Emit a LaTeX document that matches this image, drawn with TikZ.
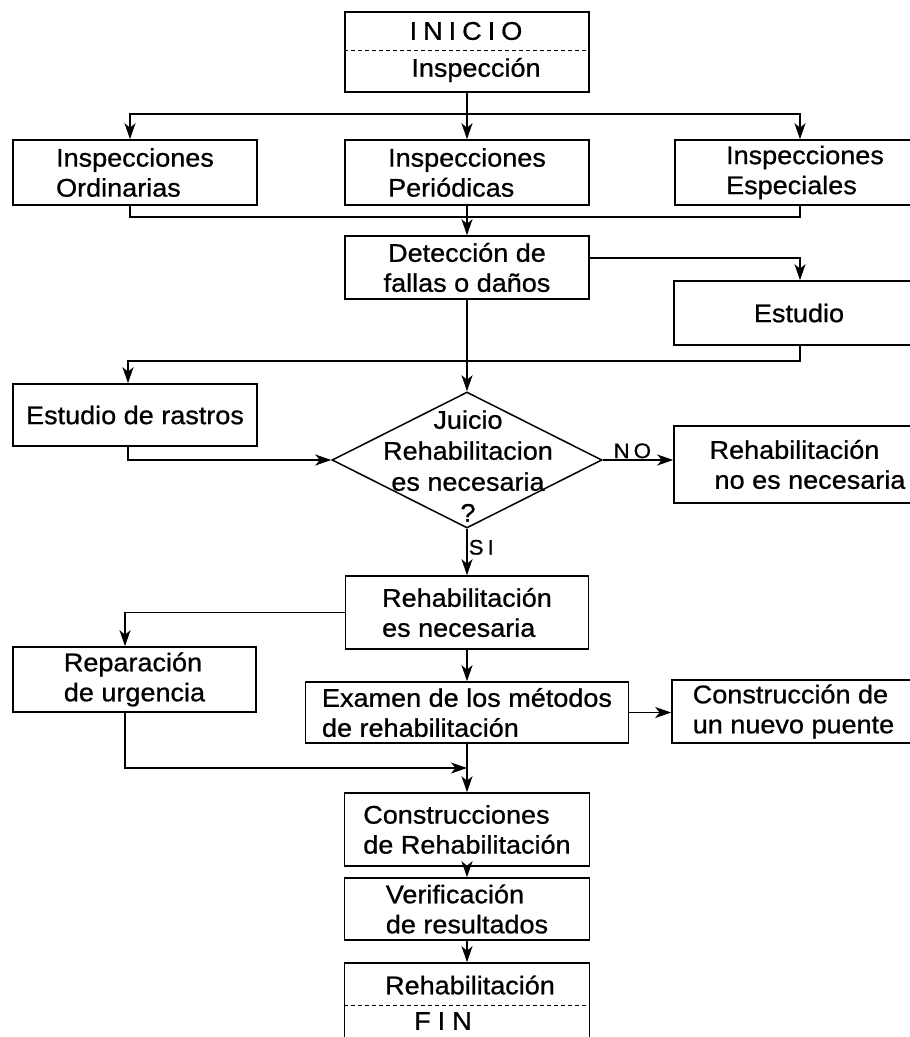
\documentclass[tikz,border=0pt]{standalone}
\usepackage{fontspec}
\setmainfont{Liberation Sans}[FakeStretch=1.06,FakeBold=0.8]
\usetikzlibrary{arrows.meta,shapes.geometric}

\tikzset{
  base/.style={draw, line width=1.6pt, inner sep=0pt,
               font=\fontsize{25.5}{30}\selectfont},
  box/.style={base, rectangle, align=center},
  boxl/.style={base, rectangle, align=left},
  conn/.style={line width=1.5pt},
  arr/.style={conn, -{Stealth[length=16pt,width=11pt,inset=4.5pt]}},
  divider/.style={line width=1pt, dash pattern=on 4pt off 3pt},
  lbl/.style={font=\fontsize{21}{24}\selectfont, inner sep=1pt},
  txt/.style={font=\fontsize{25.5}{30}\selectfont, inner sep=0pt},
}

\begin{document}
\begin{tikzpicture}[x=1pt,y=-1pt]
\useasboundingbox (0,0) rectangle (910,1037);
\fill[white] (0,0) rectangle (910,1037);

% start box
\node[box, minimum width=244pt, minimum height=80pt] (start) at (467,52) {};
\node[txt] (startA) at (466,31) {I\kern6pt N\kern6pt I\kern6pt C\kern6pt I\kern6pt O};
\node[txt] (startB) at (476,70) {Inspección};
\draw[divider] (start.west |- 0,50) -- (start.east |- 0,50);

% inspections
\node[boxl, minimum width=244pt, minimum height=65pt] (ord) at (135,172.5) {Inspecciones\\Ordinarias};
\node[boxl, minimum width=244pt, minimum height=65pt] (per) at (467,172.5) {Inspecciones\\Periódicas};
\node[boxl, minimum width=260pt, minimum height=65pt] (esp) at (805,172.5) {Inspecciones\\Especiales};

\node[box, minimum width=244pt, minimum height=63pt] (det) at (467,267.5) {Detección de\\fallas o daños};
\node[box, minimum width=250pt, minimum height=64pt] (est) at (799,313) {Estudio};
\node[box, minimum width=244pt, minimum height=62pt] (ras) at (135,415) {Estudio de rastros};

% decision
\node[diamond, draw, line width=1.5pt, minimum width=270pt, minimum height=136pt, inner sep=0pt] (dec) at (467,460) {};
\node[txt, align=center, font=\fontsize{25.5}{31}\selectfont] (decT) at (468,466) {Juicio\\Rehabilitacion\\es necesaria\\?};
\node[boxl, minimum width=267pt, minimum height=77pt] (no) at (807.5,464.5) {Rehabilitación\\\hspace*{5pt}no es necesaria};

\node[boxl, minimum width=243pt, minimum height=73pt] (nec) at (467,612.5) {Rehabilitación\\es necesaria};
\node[boxl, minimum width=243pt, minimum height=65pt] (rep) at (134.5,679.5) {Reparación\\de urgencia};
\node[boxl, minimum width=323pt, minimum height=61pt] (exa) at (467,712.5) {Examen de los métodos\\de rehabilitación};
\node[boxl, minimum width=243pt, minimum height=63pt] (nue) at (793.5,711.5) {Construcción de\\un nuevo puente};

\node[boxl, minimum width=245pt, minimum height=73pt] (con) at (467,829.5) {Construcciones\\de Rehabilitación};
\node[boxl, minimum width=245pt, minimum height=62pt] (ver) at (467,909) {Verificación\\de resultados};

% end box
\node[box, minimum width=245pt, minimum height=97pt] (fin) at (467,1011.5) {};
\node[txt] (finA) at (470,985) {Rehabilitación};
\node[txt] (finB) at (443,1021) {F\kern7pt I\kern7pt N};
\draw[divider] (fin.west |- 0,1005) -- (fin.east |- 0,1005);

% branching to the three inspections
\coordinate (b1) at (130,114);
\coordinate (b2) at (467,114);
\coordinate (b3) at (800,114);
\draw[arr] (start.south) -- (per.north);
\draw[arr] (b2) -- (b1) -- (b1 |- ord.north);
\draw[arr] (b2) -- (b3) -- (b3 |- esp.north);

% merging into detection
\coordinate (m1) at (130,217);
\coordinate (m3) at (800,217);
\draw[conn] (m1 |- ord.south) -- (m1) -- (m3) -- (m3 |- esp.south);
\draw[arr] (per.south) -- (det.north);

% detection to study and back
\coordinate (d1) at (800,258);
\draw[arr] (det.east |- d1) -- (d1) -- (d1 |- est.north);
\coordinate (e1) at (800,361);
\coordinate (e2) at (128,361);
\draw[arr] (e1 |- est.south) -- (e1) -- (e2) -- (e2 |- ras.north);
\draw[arr] (det.south) -- (dec.north);
\draw[arr] (e2 |- ras.south) |- (dec.west);

% decision outcomes
\draw[arr] (dec.east) -- node[lbl, above, pos=0.42] (nolbl) {N\kern4pt O} (dec.east -| no.west);
\draw[arr] (dec.south) -- node[lbl, right, pos=0.4] (silbl) {S\kern4pt I} (nec.north);

% rehabilitation branch
\coordinate (c1) at (125,0);
\draw[arr] (nec.west) -| (c1 |- rep.north);
\draw[arr] (nec.south) -- (exa.north);
\draw[arr] (exa.east) -- (exa.east -| nue.west);
\coordinate (j) at (467,768);
\draw[arr] (c1 |- rep.south) |- (j);
\draw[arr] (exa.south) -- (con.north);
\draw[arr] (con.south) -- (ver.north);
\draw[arr] (ver.south) -- (fin.north);
\end{tikzpicture}
\end{document}
